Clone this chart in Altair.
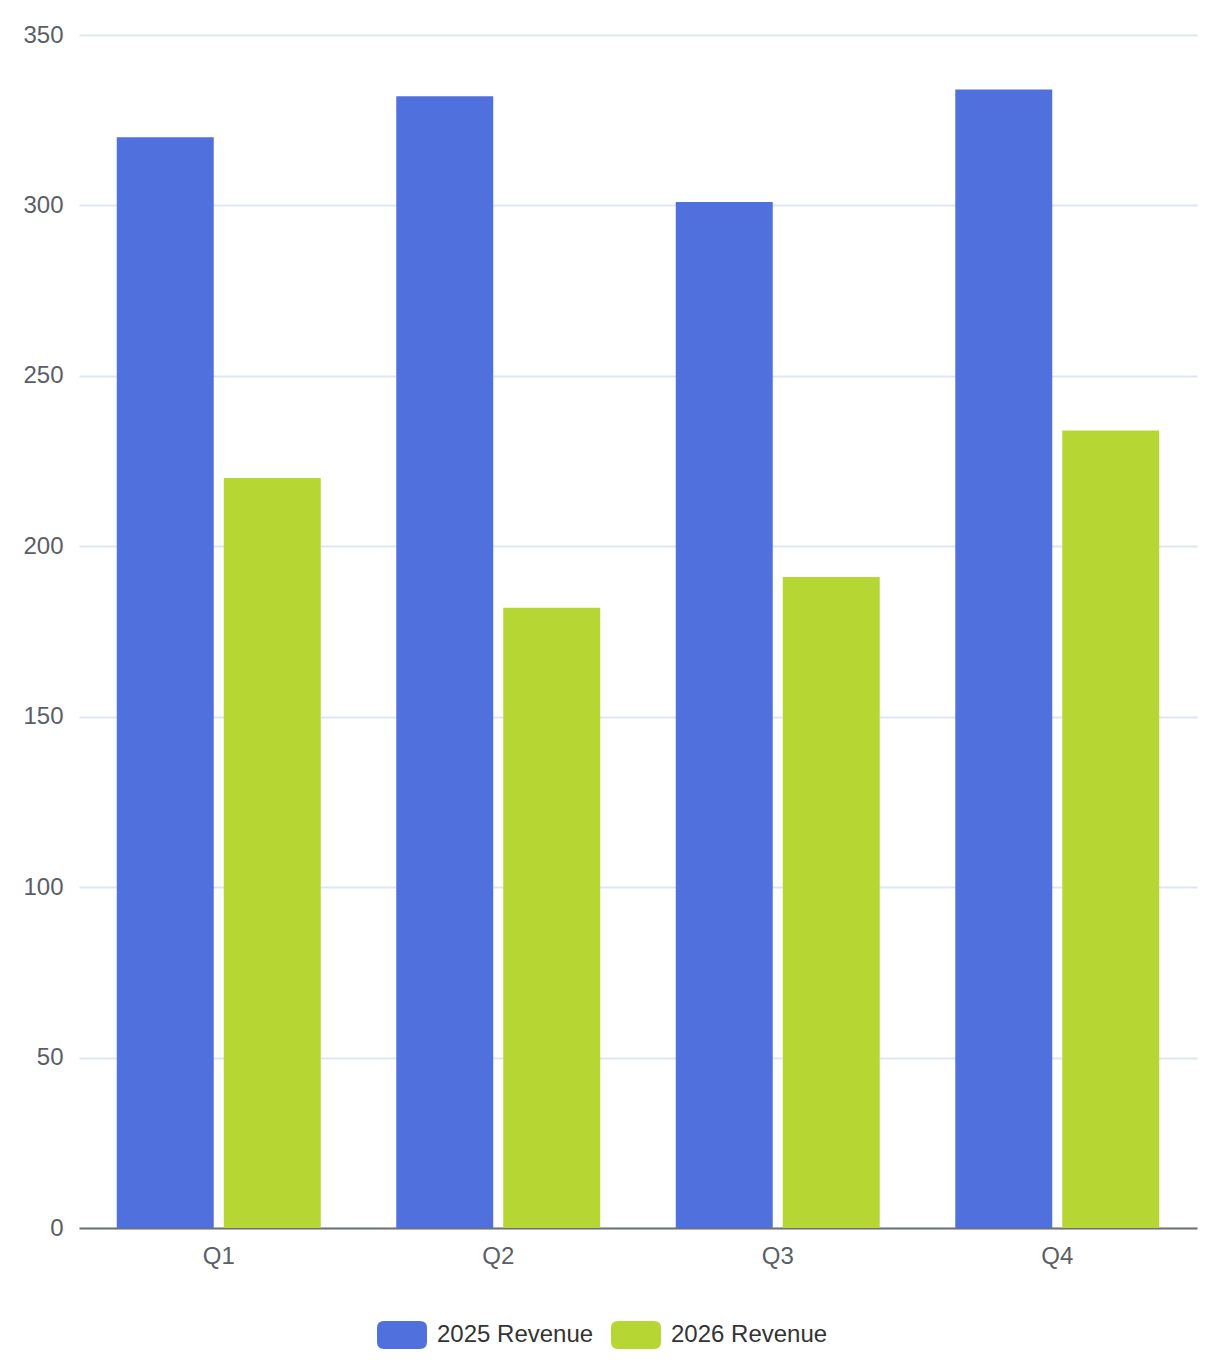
import altair as alt
import pandas as pd

quarters = ["Q1", "Q2", "Q3", "Q4"]
rev_2025 = [320, 332, 301, 334]
rev_2026 = [220, 182, 191, 234]
series = ["2025 Revenue", "2026 Revenue"]
colors = ["#5070dd", "#b6d634"]
y_ticks = [0, 50, 100, 150, 200, 250, 300, 350]

rows = []
for q, a, b in zip(quarters, rev_2025, rev_2026):
    rows.append({"quarter": q, "series": series[0], "value": a})
    rows.append({"quarter": q, "series": series[1], "value": b})
df = pd.DataFrame(rows)

FONT = "Liberation Sans"
rr = ("M-0.72,-0.56 L0.72,-0.56 Q1,-0.56 1,-0.28 L1,0.28 Q1,0.56 0.72,0.56 "
      "L-0.72,0.56 Q-1,0.56 -1,0.28 L-1,-0.28 Q-1,-0.56 -0.72,-0.56 Z")

chart = alt.Chart(df).mark_bar().encode(
    x=alt.X("quarter:N", sort=quarters, title=None,
            scale=alt.Scale(paddingInner=0, paddingOuter=0),
            axis=alt.Axis(labelAngle=0, ticks=False, labelFontSize=24, labelColor="#5a5e66",
                          labelFont=FONT, labelPadding=16, domainColor="#6e7079",
                          domainWidth=2, grid=False)),
    xOffset=alt.XOffset("series:N", sort=series,
                        scale=alt.Scale(paddingInner=0.0935, paddingOuter=0.353)),
    y=alt.Y("value:Q", title=None,
            scale=alt.Scale(domain=[0, 350], nice=False),
            axis=alt.Axis(values=y_ticks, ticks=False, domain=False, labelFontSize=24,
                          labelColor="#5a5e66", labelFont=FONT, labelPadding=16,
                          gridColor="#e0e6f1", gridWidth=2)),
    color=alt.Color("series:N", sort=series,
                    scale=alt.Scale(domain=series, range=colors),
                    legend=alt.Legend(title=None, orient="none", direction="horizontal",
                                      legendX=298, legendY=1275, symbolType=rr,
                                      symbolSize=2500, symbolStrokeWidth=0, symbolOpacity=1,
                                      labelFontSize=24, labelColor="#333333", labelFont=FONT,
                                      labelOffset=10, columnPadding=17, padding=0)),
).properties(
    width=1118, height=1193,
    padding={"left": 71, "top": 27, "right": 17, "bottom": 126},
    autosize=alt.AutoSizeParams(type="none"),
).configure_view(stroke=None)

chart.save("out.html", embed_options={"renderer": "svg", "actions": False})
